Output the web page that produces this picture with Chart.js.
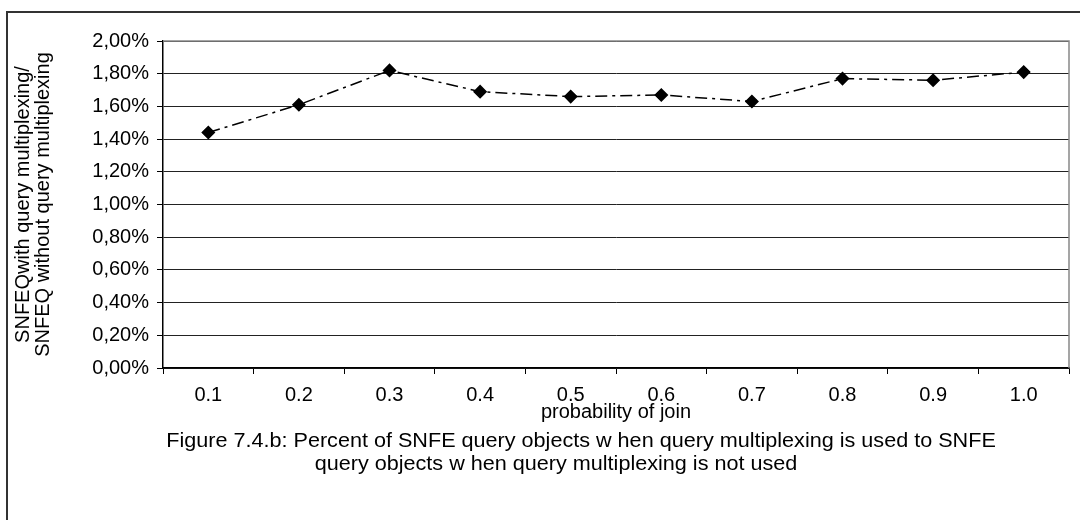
<!DOCTYPE html>
<html>
<head>
<meta charset="utf-8">
<script src="https://cdn.jsdelivr.net/npm/chart.js@4.4.1/dist/chart.umd.min.js"></script>
<style>
  html, body { margin: 0; padding: 0; background: #fff; }
  #wrap { width: 1080px; height: 520px; }
</style>
</head>
<body>
<div id="wrap"><canvas id="joinChart" width="1080" height="520"></canvas></div>
<script>
// probability of join vs SNFEQ ratio
const joinProbs = ['0.1', '0.2', '0.3', '0.4', '0.5', '0.6', '0.7', '0.8', '0.9', '1.0'];
const snfeqRatio = [1.44, 1.61, 1.82, 1.69, 1.66, 1.67, 1.63, 1.77, 1.76, 1.81];
const yTitleLines = ['SNFEQwith query multiplexing/', 'SNFEQ without query multiplexing'];
const xTitle = 'probability of join';
const captionLines = [
    'Figure 7.4.b: Percent of SNFE query objects w hen query multiplexing is used to SNFE',
    'query objects w hen query multiplexing is not used'
];

const FONT = "'Liberation Sans', Arial, sans-serif";

const framePlugin = {
    id: 'frame',
    beforeDatasetsDraw(chart) {
        const {ctx, chartArea} = chart;
        ctx.save();
        ctx.strokeStyle = '#888';
        ctx.lineWidth = 1.5;
        ctx.beginPath();
        ctx.moveTo(chartArea.left, chartArea.top);
        ctx.lineTo(chartArea.right, chartArea.top);
        ctx.lineTo(chartArea.right, chartArea.bottom);
        ctx.stroke();
        ctx.restore();
    },
    afterDraw(chart) {
        const ctx = chart.ctx;
        ctx.save();
        // outer figure border (top and left only visible)
        ctx.strokeStyle = '#333';
        ctx.lineWidth = 2;
        ctx.beginPath();
        ctx.moveTo(1080, 12);
        ctx.lineTo(7, 12);
        ctx.lineTo(7, 520);
        ctx.stroke();
        // caption, slightly stretched like the original
        ctx.fillStyle = '#000';
        ctx.font = '20px ' + FONT;
        ctx.textAlign = 'center';
        ctx.textBaseline = 'middle';
        const sx = 1.08;
        ctx.scale(sx, 1);
        ctx.fillText(captionLines[0], 581 / sx, 441);
        ctx.fillText(captionLines[1], 556 / sx, 464);
        ctx.restore();
    }
};

const ctx = document.getElementById('joinChart');
const chart = new Chart(ctx, {
    type: 'line',
    data: {
        labels: joinProbs,
        datasets: [{
            label: 'SNFEQ ratio',
            data: snfeqRatio,
            borderColor: '#000',
            borderWidth: 1.5,
            borderDash: [12, 5, 3, 5],
            pointStyle: 'rectRot',
            pointRadius: 6,
            pointHoverRadius: 6,
            pointBackgroundColor: '#000',
            pointBorderColor: '#000',
            fill: false,
            tension: 0
        }]
    },
    options: {
        responsive: false,
        animation: false,
        layout: { padding: { left: 7, top: 41, right: 11, bottom: 93 } },
        plugins: {
            legend: { display: false },
            tooltip: { enabled: false }
        },
        scales: {
            x: {
                offset: true,
                afterFit(scale) { scale.height = 59; },
                border: { color: '#000', width: 1.5 },
                grid: {
                    offset: true,
                    drawOnChartArea: false,
                    tickLength: 6,
                    tickColor: '#000'
                },
                ticks: {
                    color: '#000',
                    font: { family: FONT, size: 20 },
                    padding: 9,
                    maxRotation: 0
                },
                title: {
                    display: true,
                    text: xTitle,
                    color: '#000',
                    font: { family: FONT, size: 20, lineHeight: 1.1 },
                    padding: { top: 0, bottom: 4 }
                }
            },
            y: {
                min: 0,
                max: 2,
                afterFit(scale) { scale.width = 156; },
                border: { color: '#000', width: 1.5 },
                grid: {
                    color: '#222',
                    tickColor: '#000',
                    tickLength: 6
                },
                ticks: {
                    stepSize: 0.2,
                    color: '#000',
                    padding: 8,
                    font: { family: FONT, size: 20 },
                    callback: v => v.toFixed(2).replace('.', ',') + '%'
                },
                title: {
                    display: true,
                    text: yTitleLines,
                    color: '#000',
                    font: { family: FONT, size: 20, lineHeight: 1.0 },
                    padding: { top: 6, bottom: 0 }
                }
            }
        }
    },
    plugins: [framePlugin]
});
</script>
</body>
</html>
